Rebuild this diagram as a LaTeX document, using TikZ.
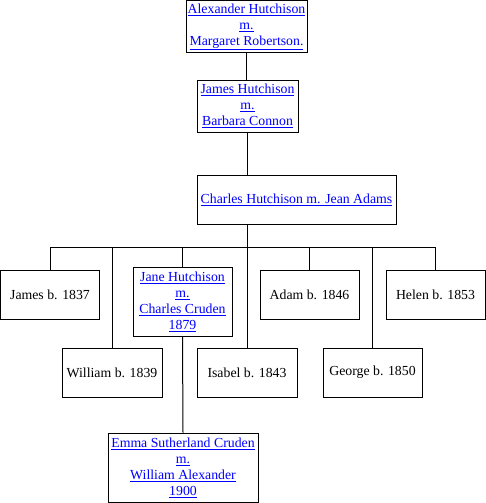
\documentclass[tikz,border=0pt]{standalone}
\usepackage{fontspec}
\setmainfont{Liberation Serif}
\usetikzlibrary{positioning}
\definecolor{linkblue}{RGB}{0,0,255}
\newcommand{\lnk}[1]{\textcolor{linkblue}{\underline{#1}}}

\begin{document}
\begin{tikzpicture}[
  x=1pt, y=-1pt,
  % Node Styles
  pbox/.style={rectangle, draw, line width=1pt, fill=white, text=black, minimum width=99pt, minimum height=49pt, inner sep=0pt, align=center},
  % Line Styles
  tline/.style={line width=1pt},
]
\tikzset{font=\fontsize{13.8}{16}\selectfont}
\useasboundingbox (0,0) rectangle (486,503);

% Family tree: Hutchison

\node[pbox, minimum width=121pt, minimum height=52pt] (alex) at (246.5,27.0) {\lnk{Alexander Hutchison}\\\lnk{m.}\\\lnk{Margaret Robertson.}};
\node[pbox, minimum width=101pt, minimum height=52pt] (jamesh) at (247.5,106.0) {\lnk{James Hutchison}\\\lnk{m.}\\\lnk{Barbara Connon}};
\node[pbox, minimum width=199pt] (charles) at (296.5,199.5) {\lnk{Charles Hutchison m. Jean Adams}};

\node[pbox] (james) at (50.0,294.5) {James b. 1837};
\node[pbox, minimum width=100pt] (william) at (112.0,372.5) {William b. 1839};
\node[pbox, minimum height=69pt] (jane) at (182.5,301.5) {\lnk{Jane Hutchison}\\\lnk{m.}\\\lnk{Charles Cruden}\\\lnk{1879}};
\node[pbox, minimum width=100pt] (isabel) at (247.0,372.5) {Isabel b. 1843};
\node[pbox] (adam) at (309.5,294.5) {Adam b. 1846};
\node[pbox] (george) at (372.5,372.5) {George b. 1850};
\node[pbox] (helen) at (435.5,294.5) {Helen b. 1853};

\node[pbox, minimum width=150pt, minimum height=69pt] (emma) at (183.0,467.5) {\lnk{Emma Sutherland Cruden}\\\lnk{m.}\\\lnk{William Alexander}\\\lnk{1900}};

\coordinate (bar) at (0,247);

\draw[tline] (alex.south) -- (alex.south |- jamesh.north);
\draw[tline] (jamesh.south) -- (jamesh.south |- charles.north);
\draw[tline] (isabel.north |- charles.south) -- (isabel.north);
\draw[tline] (james.north |- bar) -- (helen.north |- bar);
\foreach \child in {james,william,jane,adam,george,helen}
  \draw[tline] (\child.north |- bar) -- (\child.north);
\draw[tline] (jane.south) -- (emma.north);

\end{tikzpicture}
\end{document}
